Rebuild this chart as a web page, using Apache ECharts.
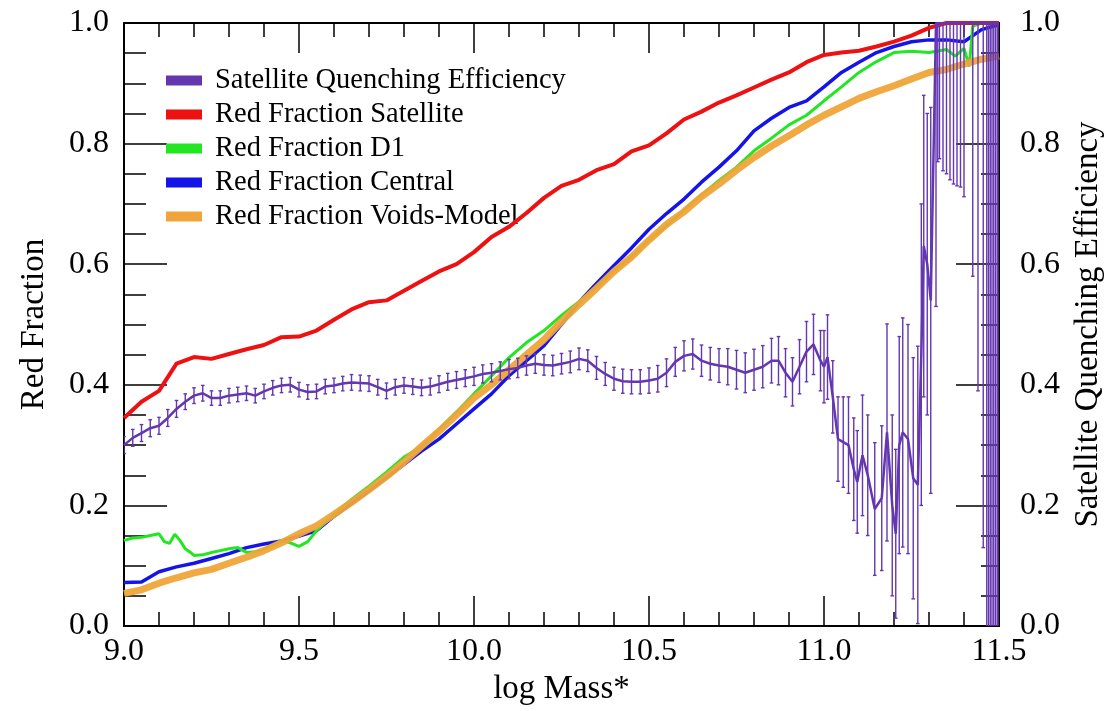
<!DOCTYPE html>
<html><head><meta charset="utf-8">
<script src="https://cdn.jsdelivr.net/npm/echarts@6/dist/echarts.min.js"></script>
<style>html,body{margin:0;padding:0;background:#fff}#c{width:1118px;height:711px}</style>
</head><body><div id="c"></div><script>
// ---------- data ----------
const massGrid = [9.00,9.05,9.10,9.15,9.20,9.25,9.30,9.35,9.40,9.45,9.50,9.55,9.60,9.65,9.70,9.75,9.80,9.85,9.90,9.95,
  10.00,10.05,10.10,10.15,10.20,10.25,10.30,10.35,10.40,10.45,10.50,10.55,10.60,10.65,10.70,10.75,10.80,10.85,10.90,10.95,
  11.00,11.05,11.10,11.15,11.20,11.25,11.30,11.35,11.40,11.45,11.50];
const redSatellite = [0.345,0.372,0.390,0.435,0.446,0.443,0.451,0.459,0.466,0.479,0.480,0.490,0.508,0.525,0.537,0.540,0.556,0.572,0.588,0.600,
  0.620,0.645,0.662,0.685,0.710,0.730,0.740,0.756,0.766,0.787,0.797,0.817,0.840,0.853,0.868,0.880,0.893,0.906,0.918,0.935,
  0.947,0.951,0.954,0.961,0.969,0.979,0.992,1.000,1.000,1.000,1.000];
const redCentral = [0.072,0.073,0.090,0.098,0.104,0.112,0.120,0.130,0.136,0.141,0.149,0.158,0.182,0.203,0.224,0.246,0.268,0.290,0.310,0.335,
  0.360,0.385,0.415,0.440,0.465,0.500,0.537,0.568,0.598,0.627,0.658,0.684,0.708,0.736,0.761,0.788,0.821,0.842,0.860,0.871,
  0.894,0.918,0.935,0.951,0.961,0.969,0.972,0.972,0.969,0.989,0.997];
const redVoidsModel = [0.054,0.060,0.071,0.080,0.088,0.094,0.104,0.114,0.125,0.138,0.153,0.166,0.185,0.205,0.226,0.248,0.272,0.298,0.323,0.350,
  0.378,0.400,0.425,0.450,0.475,0.505,0.533,0.560,0.588,0.612,0.640,0.666,0.687,0.712,0.733,0.756,0.777,0.796,0.813,0.831,
  0.847,0.861,0.875,0.886,0.896,0.907,0.918,0.923,0.932,0.940,0.945];
const d1Mass = [9.000,9.025,9.050,9.075,9.100,9.115,9.130,9.145,9.160,9.175,9.190,9.200,9.225,9.250,9.275,9.300,9.325,9.350,9.375,9.400,
  9.425,9.450,9.475,9.500,9.525,9.550,9.600,9.650,9.700,9.750,9.800,9.850,9.900,9.950,10.000,10.050,10.100,10.150,10.200,10.250,
  10.300,10.350,10.400,10.450,10.500,10.550,10.600,10.650,10.700,10.750,10.800,10.850,10.900,10.950,11.000,11.050,11.100,11.150,11.200,11.250,
  11.300,11.350,11.375,11.400,11.415,11.425,11.450,11.500];
const redD1 = [0.142,0.146,0.147,0.150,0.153,0.140,0.137,0.152,0.142,0.128,0.122,0.117,0.118,0.122,0.125,0.128,0.130,0.122,0.123,0.128,
  0.134,0.142,0.138,0.132,0.140,0.158,0.185,0.210,0.232,0.255,0.280,0.297,0.326,0.355,0.385,0.415,0.445,0.470,0.490,0.515,
  0.538,0.562,0.590,0.612,0.640,0.663,0.690,0.715,0.739,0.761,0.788,0.809,0.831,0.847,0.871,0.894,0.918,0.936,0.951,0.953,
  0.951,0.956,0.945,0.958,0.928,0.995,1.000,1.000];
const satMass = [9.000,9.025,9.050,9.075,9.100,9.125,9.150,9.175,9.200,9.225,9.250,9.275,9.300,9.325,9.350,9.375,9.400,9.425,9.450,9.475,
  9.500,9.525,9.550,9.575,9.600,9.625,9.650,9.675,9.700,9.725,9.750,9.775,9.800,9.825,9.850,9.875,9.900,9.925,9.950,9.975,
  10.000,10.025,10.050,10.075,10.100,10.125,10.150,10.175,10.200,10.225,10.250,10.275,10.300,10.325,10.350,10.375,10.400,10.425,10.450,10.475,
  10.500,10.525,10.550,10.575,10.600,10.625,10.650,10.675,10.700,10.725,10.750,10.775,10.800,10.825,10.850,
  10.870,10.890,10.910,10.930,10.950,10.970,10.990,11.000,11.010,11.025,11.040,11.055,11.070,11.085,11.095,11.110,11.125,11.145,11.165,11.180,
  11.195,11.205,11.215,11.225,11.240,11.255,11.268,11.278,11.285,11.295,11.305,11.320,11.325,11.330,11.340,11.350,11.360,11.370,11.380,11.390,
  11.400,11.425,11.440,11.455,11.465,11.470,11.475,11.480,11.485,11.490,11.495,11.500];
const satEfficiency = [0.300,0.312,0.320,0.328,0.332,0.345,0.360,0.372,0.382,0.386,0.378,0.378,0.382,0.384,0.386,0.382,0.389,0.395,0.399,0.400,
  0.392,0.388,0.389,0.397,0.399,0.402,0.404,0.403,0.402,0.396,0.390,0.396,0.399,0.397,0.395,0.397,0.401,0.405,0.408,0.411,
  0.414,0.418,0.420,0.423,0.426,0.428,0.432,0.435,0.433,0.432,0.435,0.438,0.443,0.440,0.428,0.418,0.410,0.406,0.405,0.405,
  0.407,0.410,0.420,0.438,0.448,0.451,0.440,0.435,0.432,0.430,0.425,0.420,0.425,0.430,0.440,
  0.440,0.420,0.405,0.430,0.455,0.467,0.440,0.430,0.446,0.380,0.310,0.305,0.300,0.260,0.239,0.283,0.250,0.194,0.212,0.321,
  0.200,0.153,0.300,0.321,0.310,0.245,0.234,0.450,0.630,0.600,0.540,1.000,1.000,1.000,1.000,1.000,1.000,1.000,1.000,1.000,
  1.000,1.000,1.000,1.000,1.000,1.000,1.000,1.000,1.000,1.000,1.000,1.000];
const satError = [0.014,0.014,0.014,0.014,0.014,0.014,0.014,0.013,0.013,0.013,0.012,0.012,0.012,0.012,0.012,0.012,0.012,0.012,0.012,0.012,
  0.012,0.012,0.012,0.012,0.012,0.012,0.013,0.013,0.013,0.013,0.013,0.013,0.013,0.013,0.013,0.014,0.014,0.014,0.014,0.014,
  0.015,0.015,0.015,0.015,0.016,0.016,0.016,0.016,0.017,0.017,0.017,0.018,0.018,0.018,0.019,0.019,0.019,0.020,0.020,0.020,
  0.021,0.022,0.023,0.024,0.025,0.025,0.026,0.027,0.028,0.030,0.032,0.033,0.034,0.035,0.037,
  0.040,0.040,0.040,0.045,0.050,0.050,0.050,0.060,0.070,0.060,0.070,0.075,0.080,0.085,0.085,0.100,0.100,0.110,0.120,0.180,
  0.150,0.140,0.180,0.190,0.190,0.200,0.230,0.250,0.250,0.250,0.320,0.470,0.230,0.225,0.245,0.250,0.260,0.267,0.270,0.272,
  0.288,0.420,0.610,0.870,1.200,1.200,1.200,1.200,1.200,1.200,1.200,1.200];
const xTicks = [9.0, 9.5, 10.0, 10.5, 11.0, 11.5];
const yTicks = [0.0, 0.2, 0.4, 0.6, 0.8, 1.0];

// ---------- style ----------
const FONT = 'Liberation Serif';
const PURPLE = '#6437b0', RED = '#ee1111', GREEN = '#22e622', BLUE = '#1414e8', ORANGE = '#f0a43a';
const pairs = (xs, ys) => xs.map((x, i) => [x, ys[i]]);

const chart = echarts.init(document.getElementById('c'), null, {renderer: 'canvas'});
const tickLabel = {fontFamily: FONT, fontSize: 32, color: '#000'};
const nameStyle = {fontFamily: FONT, fontSize: 33, color: '#000'};
function xAxis(pos, showLabel) {
  return {
    type: 'value', position: pos, min: xTicks[0], max: xTicks[xTicks.length - 1],
    interval: xTicks[1] - xTicks[0],
    axisLine: {show: true, onZero: false, lineStyle: {color: '#000', width: 2}},
    axisTick: {show: true, inside: true, length: 30, lineStyle: {color: '#000', width: 1.5}},
    minorTick: {show: true, splitNumber: 5, length: 14, lineStyle: {color: '#000', width: 1.5}},
    splitLine: {show: false}, minorSplitLine: {show: false},
    axisLabel: Object.assign({show: showLabel, margin: 10, formatter: v => v.toFixed(1)}, tickLabel),
    name: showLabel ? 'log Mass*' : '', nameLocation: 'middle', nameGap: 47, nameTextStyle: nameStyle
  };
}
function yAxis(pos, name, margin, minorLen) {
  return {
    type: 'value', position: pos, min: yTicks[0], max: yTicks[yTicks.length - 1],
    interval: yTicks[1] - yTicks[0],
    axisLine: {show: true, onZero: false, lineStyle: {color: '#000', width: 2}},
    axisTick: {show: true, inside: true, length: 43, lineStyle: {color: '#000', width: 1.5}},
    minorTick: {show: true, splitNumber: 4, length: minorLen, lineStyle: {color: '#000', width: 1.5}},
    splitLine: {show: false}, minorSplitLine: {show: false},
    axisLabel: Object.assign({margin: margin, formatter: v => v.toFixed(1)}, tickLabel),
    name: name, nameLocation: 'middle', nameGap: 73, nameTextStyle: nameStyle
  };
}

const errData = satMass.map((m, i) => [m, satEfficiency[i] - satError[i], satEfficiency[i] + satError[i]]);

chart.setOption({
  animation: false,
  backgroundColor: '#fff',
  grid: {left: 124, right: 119, top: 23, bottom: 74, containLabel: false},
  xAxis: [xAxis('bottom', true), xAxis('top', false)],
  yAxis: [yAxis('left', 'Red Fraction', 15, 22), yAxis('right', 'Satellite Quenching Efficiency', 21, 18)],
  legend: {
    left: 161, top: 61, orient: 'vertical', icon: 'rect', itemWidth: 36, itemHeight: 10, itemGap: 5,
    data: ['Satellite Quenching Efficiency', 'Red Fraction Satellite', 'Red Fraction D1', 'Red Fraction Central', 'Red Fraction Voids-Model'],
    textStyle: {fontFamily: FONT, fontSize: 28.5, color: '#000', lineHeight: 24, padding: [0, 0, 0, 8]}
  },
  series: [
    {name: 'Red Fraction Central', type: 'line', data: pairs(massGrid, redCentral), showSymbol: false,
      lineStyle: {color: BLUE, width: 3.5}, itemStyle: {color: BLUE}, z: 2},
    {name: 'Red Fraction D1', type: 'line', data: pairs(d1Mass, redD1), showSymbol: false,
      lineStyle: {color: GREEN, width: 3}, itemStyle: {color: GREEN}, z: 3},
    {name: 'Red Fraction Voids-Model', type: 'line', data: pairs(massGrid, redVoidsModel), showSymbol: false,
      lineStyle: {color: ORANGE, width: 7, opacity: 0.95}, itemStyle: {color: ORANGE}, z: 4},
    {name: 'Red Fraction Satellite', type: 'line', data: pairs(massGrid, redSatellite), showSymbol: false,
      lineStyle: {color: RED, width: 4}, itemStyle: {color: RED}, z: 5},
    {name: 'Satellite Quenching Efficiency', type: 'custom', yAxisIndex: 1, data: errData, z: 6,
      itemStyle: {color: PURPLE}, encode: {x: 0, y: [1, 2]}, clip: true,
      renderItem: function (params, api) {
        const x = api.value(0), lo = api.value(1), hi = api.value(2);
        const top = api.coord([x, Math.min(hi, 1)]);
        const bot = api.coord([x, Math.max(lo, 0)]);
        const st = {stroke: PURPLE, lineWidth: 1.4};
        const ch = [{type: 'line', shape: {x1: top[0], y1: top[1], x2: bot[0], y2: bot[1]}, style: st}];
        if (hi <= 1) ch.push({type: 'line', shape: {x1: top[0] - 1.8, y1: top[1], x2: top[0] + 1.8, y2: top[1]}, style: st});
        if (lo >= 0) ch.push({type: 'line', shape: {x1: bot[0] - 1.8, y1: bot[1], x2: bot[0] + 1.8, y2: bot[1]}, style: st});
        return {type: 'group', children: ch};
      }},
    {name: 'Satellite Quenching Efficiency', type: 'line', yAxisIndex: 1, data: pairs(satMass, satEfficiency), showSymbol: false,
      lineStyle: {color: PURPLE, width: 2.5}, itemStyle: {color: PURPLE}, z: 7}
  ]
});
</script></body></html>
